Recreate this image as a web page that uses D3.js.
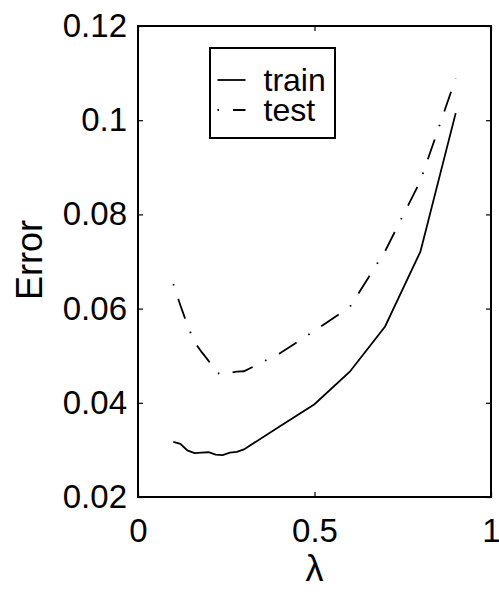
<!DOCTYPE html>
<html>
<head>
<meta charset="utf-8">
<script src="https://cdn.jsdelivr.net/npm/d3@7"></script>
<style>
  html, body { margin: 0; padding: 0; background: #fff; }
  svg { display: block; }
  text { font-family: "Liberation Sans", Arial, Helvetica, sans-serif; fill: #000; }
</style>
</head>
<body>
<svg id="chart" width="499" height="592"></svg>
<script>
// ---- data ----
const lambdas   = [0.10, 0.12, 0.14, 0.16, 0.18, 0.20, 0.22, 0.24, 0.26, 0.28, 0.30, 0.4, 0.5, 0.6, 0.7, 0.8, 0.9];
const trainErr  = [0.0317, 0.0313, 0.0299, 0.0293, 0.0294, 0.0295, 0.0290, 0.0289, 0.0294, 0.0296, 0.0301, 0.0349, 0.0397, 0.0466, 0.0562, 0.0721, 0.1015];
const testErr   = [0.0652, 0.0607, 0.0565, 0.0529, 0.0508, 0.0489, 0.0465, 0.0459, 0.0464, 0.0466, 0.0467, 0.0504, 0.0553, 0.0603, 0.0722, 0.0871, 0.1089];
const xTicks    = [0, 0.5, 1];
const xTickLabels = ["0", "0.5", "1"];
const yTicks    = [0.02, 0.04, 0.06, 0.08, 0.10, 0.12];
const yTickLabels = ["0.02", "0.04", "0.06", "0.08", "0.1", "0.12"];
const seriesNames = ["train", "test"];

// ---- layout ----
const svg = d3.select("#chart");
const L = 138, R = 491, T = 26, B = 497;
const x = d3.scaleLinear().domain([0, 1]).range([L, R]);
const y = d3.scaleLinear().domain([0.02, 0.12]).range([B, T]);
const FS_TICK = 33, FS_LABEL = 36, FS_LEG = 32;
const testDash = "1.5,14,21,14";

// axes (inward ticks on all four sides)
const fmtX = d => xTickLabels[xTicks.indexOf(d)];
const fmtY = d => yTickLabels[yTicks.findIndex(v => Math.abs(v - d) < 1e-9)];

const gB = svg.append("g").attr("transform", `translate(0,${B})`)
  .call(d3.axisBottom(x).tickValues(xTicks).tickFormat(fmtX).tickSizeInner(-5).tickSizeOuter(0).tickPadding(22));
const gT = svg.append("g").attr("transform", `translate(0,${T})`)
  .call(d3.axisTop(x).tickValues(xTicks).tickFormat("").tickSizeInner(-5).tickSizeOuter(0));
const gL = svg.append("g").attr("transform", `translate(${L},0)`)
  .call(d3.axisLeft(y).tickValues(yTicks).tickFormat(fmtY).tickSizeInner(-5).tickSizeOuter(0).tickPadding(11));
const gR = svg.append("g").attr("transform", `translate(${R},0)`)
  .call(d3.axisRight(y).tickValues(yTicks).tickFormat("").tickSizeInner(-5).tickSizeOuter(0));

[gB, gT, gL, gR].forEach(g => {
  g.select(".domain").remove();
  g.selectAll(".tick line").attr("stroke", "#000").attr("stroke-width", 1.2);
  g.selectAll(".tick text").attr("font-size", FS_TICK).attr("font-family", "Liberation Sans, Arial, sans-serif").attr("fill", "#000");
});

// frame
svg.append("rect").attr("x", L).attr("y", T).attr("width", R - L).attr("height", B - T)
  .attr("fill", "none").attr("stroke", "#000").attr("stroke-width", 2);

// lines
const line = d3.line().x((d, i) => x(lambdas[i])).y(d => y(d));
svg.append("path").datum(trainErr).attr("d", line)
  .attr("fill", "none").attr("stroke", "#000").attr("stroke-width", 1.8);
svg.append("path").datum(testErr).attr("d", line)
  .attr("fill", "none").attr("stroke", "#000").attr("stroke-width", 1.8)
  .attr("stroke-dasharray", testDash);

// axis labels
svg.append("text").attr("x", x(0.5)).attr("y", 581).attr("text-anchor", "middle")
  .attr("font-size", FS_LABEL).text("λ");
svg.append("text").attr("transform", `translate(41.5,260) rotate(-90)`)
  .attr("text-anchor", "middle").attr("font-size", FS_LABEL).text("Error");

// legend
const lg = svg.append("g");
lg.append("rect").attr("x", 210).attr("y", 48).attr("width", 125).attr("height", 90)
  .attr("fill", "#fff").attr("stroke", "#000").attr("stroke-width", 2);
const legY = [80, 110];
const legDash = [null, testDash];
seriesNames.forEach((name, i) => {
  lg.append("line").attr("x1", 217.5).attr("x2", 245.5).attr("y1", legY[i]).attr("y2", legY[i])
    .attr("stroke", "#000").attr("stroke-width", 1.8).attr("stroke-dasharray", legDash[i]);
  lg.append("text").attr("x", 263.5).attr("y", legY[i] + 11).attr("font-size", FS_LEG).text(name);
});
</script>
</body>
</html>
